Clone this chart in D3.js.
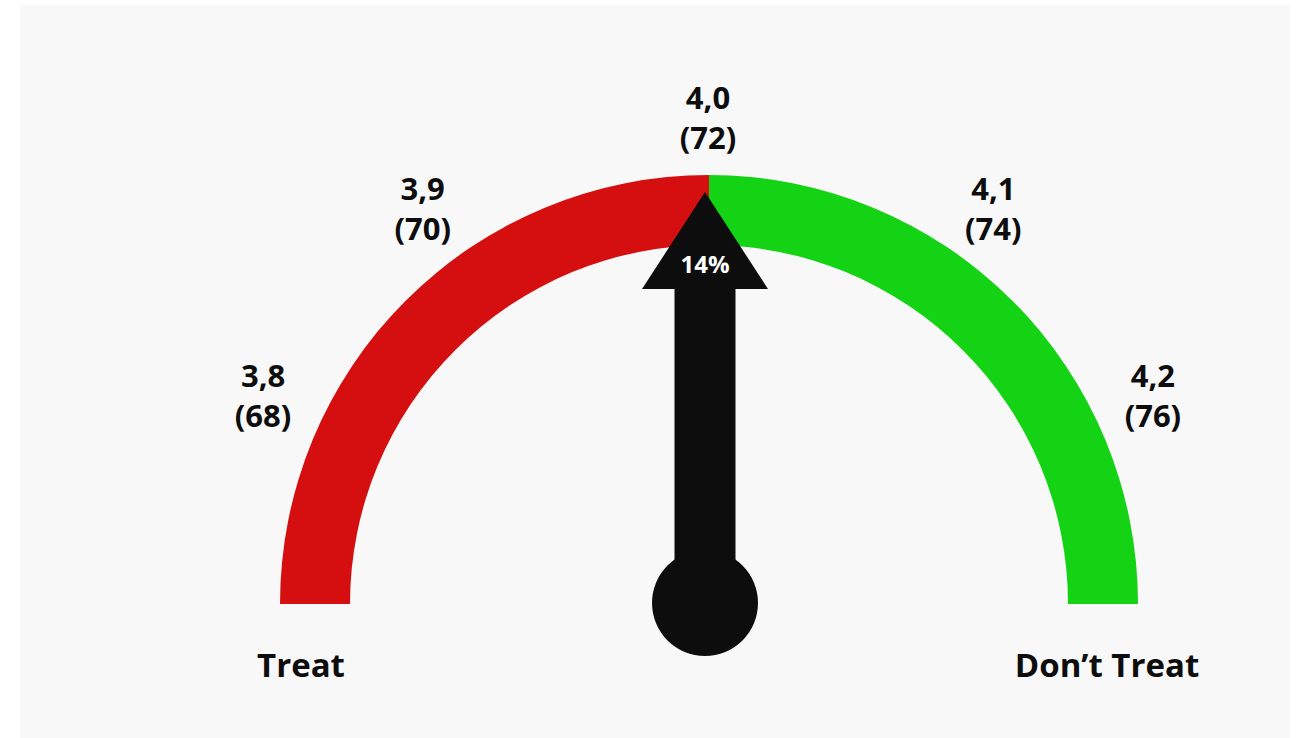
<!DOCTYPE html>
<html>
<head>
<meta charset="utf-8">
<script src="https://cdn.jsdelivr.net/npm/d3@7"></script>
<style>
  html, body { margin: 0; padding: 0; background: #ffffff; }
  text { font-family: "Open Sans", sans-serif; font-weight: 700; }
</style>
</head>
<body>
<div id="chart"></div>
<script>
// Gauge data
const tickValues = [3.8, 3.9, 4.0, 4.1, 4.2]
const tickLabels = ["3,8", "3,9", "4,0", "4,1", "4,2"]
const tickSubLabels = ["(68)", "(70)", "(72)", "(74)", "(76)"]
const bands = [
    {name: "Treat", from: 3.8, to: 4.0, colour: "#d50f0f"},
    {name: "Don\u2019t Treat", from: 4.0, to: 4.2, colour: "#14d214"}
]
const needleValue = 4.0
const needleLabel = "14%"

// Chart parameters
const WIDTH = 1301
const HEIGHT = 738
const CX = 709
const CY = 604
const NEEDLE_DX = -4
const R_OUTER = 429
const R_INNER = 359
const LABEL_R = 495

const svg = d3.select("#chart").append("svg")
    .attr("width", WIDTH)
    .attr("height", HEIGHT)

// panel background
svg.append("rect")
    .attr("x", 20).attr("y", 5)
    .attr("width", 1270).attr("height", HEIGHT - 5)
    .attr("fill", "#f8f8f8")

// value -> angle (radians, 0 = straight up)
const angle = d3.scaleLinear()
    .domain([3.8, 4.2])
    .range([-Math.PI / 2, Math.PI / 2])

// labels sit at slightly different angles from the arc ticks
const labelAngle = d3.scaleLinear()
    .domain(tickValues)
    .range([-64, -35.2, 0, 35.2, 64].map(d => d * Math.PI / 180))

const g = svg.append("g").attr("transform", `translate(${CX},${CY})`)

const arc = d3.arc()
    .innerRadius(R_INNER)
    .outerRadius(R_OUTER)
    .startAngle(d => angle(d.from))
    .endAngle(d => angle(d.to))

g.selectAll("path.band")
    .data(bands)
    .enter()
    .append("path")
    .attr("class", "band")
    .attr("d", arc)
    .attr("fill", d => d.colour)

// tick labels, two lines each
const labels = g.append("g").attr("transform", `translate(-1,0)`)
const ticks = labels.selectAll("text.tick")
    .data(tickValues)
    .enter()
    .append("text")
    .attr("class", "tick")
    .attr("text-anchor", "middle")
    .attr("font-size", 31)
    .attr("fill", "#0d0d0d")
    .attr("transform", d => {
        const a = labelAngle(d)
        return `translate(${LABEL_R * Math.sin(a)},${-LABEL_R * Math.cos(a)})`
    })
ticks.append("tspan")
    .attr("x", 0).attr("dy", 0)
    .text((d, i) => tickLabels[i])
ticks.append("tspan")
    .attr("x", 0).attr("dy", "1.3em")
    .text((d, i) => tickSubLabels[i])

// band names under the ends of the arc
g.selectAll("text.band-name")
    .data(bands)
    .enter()
    .append("text")
    .attr("class", "band-name")
    .attr("text-anchor", "middle")
    .attr("font-size", 33)
    .attr("fill", "#0d0d0d")
    .attr("x", (d, i) => i === 0 ? -408 : 398)
    .attr("y", 73)
    .text(d => d.name)

// needle: shaft, arrow head, hub
const needle = g.append("g")
    .attr("transform", `translate(${NEEDLE_DX},-1) rotate(${angle(needleValue) * 180 / Math.PI})`)
const TIP = 411, HEAD_H = 97, HEAD_W = 126, SHAFT_W = 61
needle.append("rect")
    .attr("x", -SHAFT_W / 2)
    .attr("y", -(TIP - HEAD_H) - 2)
    .attr("width", SHAFT_W)
    .attr("height", TIP - HEAD_H + 2)
    .attr("fill", "#0d0d0d")
needle.append("path")
    .attr("d", `M0,${-TIP}L${HEAD_W / 2},${-(TIP - HEAD_H)}L${-HEAD_W / 2},${-(TIP - HEAD_H)}Z`)
    .attr("fill", "#0d0d0d")
needle.append("circle")
    .attr("r", 53)
    .attr("fill", "#0d0d0d")
needle.append("text")
    .attr("text-anchor", "middle")
    .attr("font-size", 24)
    .attr("fill", "#ffffff")
    .attr("y", -(TIP - HEAD_H) - 16)
    .text(needleLabel)
</script>
</body>
</html>
